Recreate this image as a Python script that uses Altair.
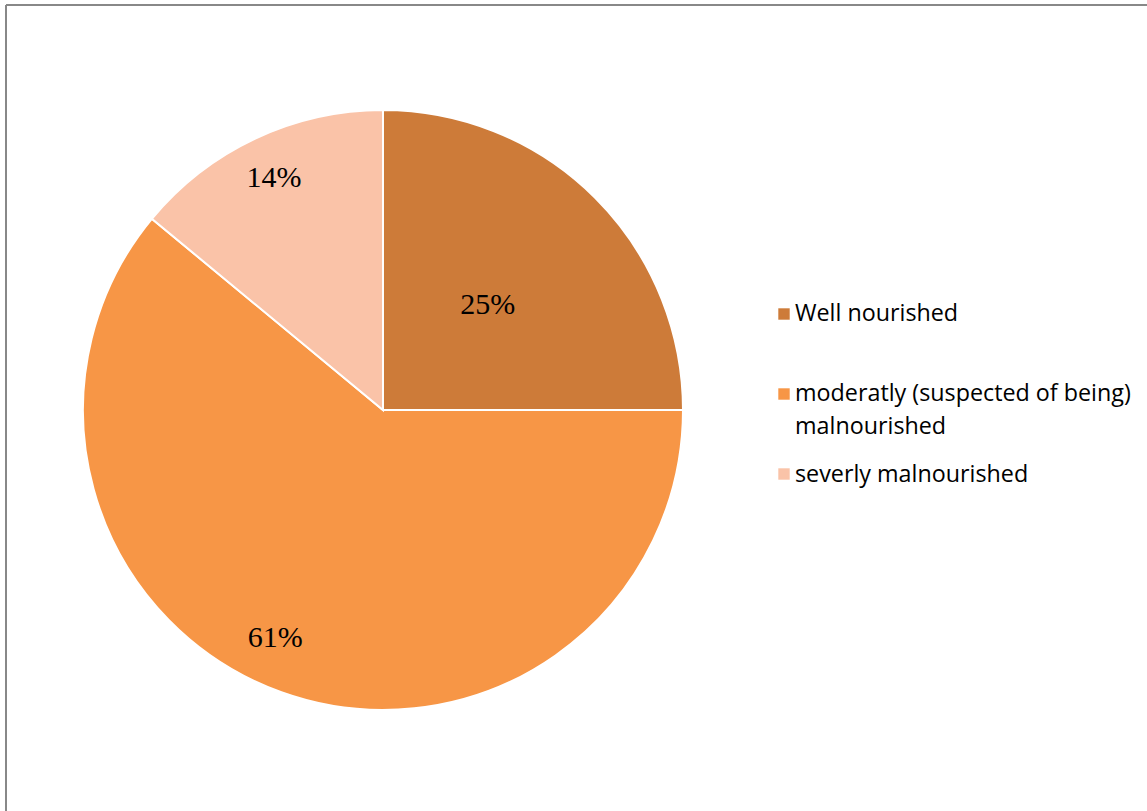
import altair as alt
import pandas as pd

categories = ["Well nourished", "moderatly (suspected of being) malnourished", "severly malnourished"]
legend_text = ["Well nourished", "moderatly (suspected of being)\nmalnourished", "severly malnourished"]
values = [25, 61, 14]
labels = ["25%", "61%", "14%"]
colors = ["#CD7B39", "#F79646", "#FAC3A8"]

df = pd.DataFrame({"category": categories, "value": values, "label": labels,
                   "legend": legend_text, "order": list(range(len(categories)))})

# layout constants (pixels in view coordinates)
W, H = 1141, 806
CX, CY, R = 377, 405, 300
LEG_X_SQ, LEG_X_TXT = 778, 789
LEG_SQ_Y = [309, 389, 469]
LEG_TXT_Y = [316, 396, 477]

color = alt.Color("category:N", scale=alt.Scale(domain=categories, range=colors), legend=None)

pie = alt.Chart(df).mark_arc(outerRadius=R, stroke="white", strokeWidth=2).encode(
    theta=alt.Theta("value:Q", stack=True),
    order=alt.Order("order:Q"),
    color=color, x=alt.value(CX), y=alt.value(CY),
)

# label placement (Excel "best fit"-like): radius and small angular nudge per slice
text = alt.Chart(df).transform_window(
    cum="sum(value)", sort=[alt.SortField("order")], frame=[None, 0]
).transform_joinaggregate(
    total="sum(value)"
).transform_calculate(
    mid="(datum.cum - datum.value / 2) / datum.total * 2 * PI + (datum.order == 1 ? 0.096 : 0)",
    r="datum.order == 0 ? 148 : (datum.order == 1 ? 252 : 256)",
).transform_calculate(
    tx=f"{CX} + datum.r * sin(datum.mid)",
    ty=f"{CY} - datum.r * cos(datum.mid)",
).mark_text(font="Liberation Serif", fontSize=30, color="black").encode(
    text="label:N",
    x=alt.X("tx:Q", scale=None, axis=None),
    y=alt.Y("ty:Q", scale=None, axis=None),
)

border_top = alt.Chart(df).mark_rule(color="#888888", strokeWidth=2).encode(
    x=alt.value(0), x2=alt.value(W + 10), y=alt.value(0))
border_left = alt.Chart(df).mark_rule(color="#888888", strokeWidth=2).encode(
    x=alt.value(0), y=alt.value(0), y2=alt.value(H + 10))

layers = [pie, text]
for i, cat in enumerate(categories):
    sub = alt.Chart(df).transform_filter(alt.datum.order == i)
    layers.append(sub.mark_square(size=130, opacity=1).encode(
        x=alt.value(LEG_X_SQ), y=alt.value(LEG_SQ_Y[i]), color=color))
    layers.append(sub.mark_text(align="left", baseline="alphabetic", font="Open Sans",
                                fontSize=23.3, color="black", lineBreak="\n", lineHeight=33).encode(
        x=alt.value(LEG_X_TXT), y=alt.value(LEG_TXT_Y[i]), text="legend:N"))
layers += [border_top, border_left]

chart = alt.layer(*layers).properties(
    width=W, height=H,
    padding={"left": 6, "top": 5, "right": 0, "bottom": 0},
    autosize="none",
).configure_view(stroke=None)

chart.save("out.html", embed_options={"renderer": "svg", "actions": False})
